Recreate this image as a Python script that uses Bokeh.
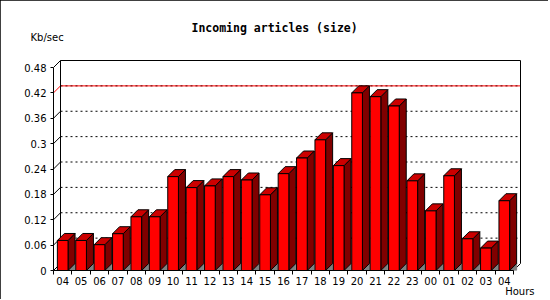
from bokeh.plotting import figure
from bokeh.models import Range1d, FixedTicker, Title
from bokeh.embed import file_html
from bokeh.resources import INLINE

# ---- data ----
hours = ["04", "05", "06", "07", "08", "09", "10", "11", "12", "13", "14", "15",
         "16", "17", "18", "19", "20", "21", "22", "23", "00", "01", "02", "03", "04"]
kbsec = [0.071, 0.071, 0.061, 0.087, 0.127, 0.127, 0.222, 0.196, 0.200, 0.222,
         0.214, 0.179, 0.229, 0.266, 0.309, 0.248, 0.420, 0.411, 0.389, 0.212,
         0.141, 0.224, 0.075, 0.053, 0.165]
ytick_vals = [0, 0.06, 0.12, 0.18, 0.24, 0.3, 0.36, 0.42, 0.48]
ytick_labels = ["0", "0.06", "0.12", "0.18", "0.24", "0.3", "0.36", "0.42", "0.48"]
ymax = 0.48
max_line = 0.42
title_text = "Incoming articles (size)"
ylabel_text = "Kb/sec"
xlabel_text = "Hours"

# ---- layout (pixels) ----
W, H = 548, 299
FL, FR, FT, FB = 53, 524, 38, 270     # frame edges
PX_X = 18.4                          # px per category
PX_Y = 203 / ymax                    # px per unit
DEPTH = 7

n = len(kbsec)
x_end = (FR - FL) / PX_X
y_end = (FB - FT) / PX_Y
dx = DEPTH / PX_X
dy = DEPTH / PX_Y

p = figure(width=W, height=H, output_backend="svg", toolbar_location=None,
           x_range=Range1d(0, x_end), y_range=Range1d(0, y_end),
           min_border_left=FL, min_border_right=W - FR,
           min_border_top=FT, min_border_bottom=H - FB)
p.outline_line_color = None
p.xgrid.visible = False
p.ygrid.visible = False
p.background_fill_color = "white"
p.border_fill_color = "white"
p.styles = {"outline": "2px solid black", "outline-offset": "-2px"}

# back wall gridlines
grid_vals = [v for v in ytick_vals if 0 < v < ymax and v != max_line]
p.segment(x0=[dx] * len(grid_vals), y0=[v + dy for v in grid_vals],
          x1=[n + dx] * len(grid_vals), y1=[v + dy for v in grid_vals],
          line_color="black", line_dash="2 3", line_width=1)
# max line (red)
p.segment(x0=[dx], y0=[max_line + dy], x1=[n + dx], y1=[max_line + dy],
          line_color="#ff0000", line_width=1)
p.segment(x0=[dx], y0=[max_line + dy], x1=[n + dx], y1=[max_line + dy],
          line_color="#600000", line_dash="2 3", line_width=1)

# slanted connectors from front axis to wall
slant_cols = ["#ff0000" if v == max_line else "black" for v in ytick_vals]
p.segment(x0=[0] * len(ytick_vals), y0=ytick_vals,
          x1=[dx] * len(ytick_vals), y1=[v + dy for v in ytick_vals],
          line_color=slant_cols, line_width=1)

# wall outline
p.line(x=[dx, dx, n + dx, n + dx, n], y=[dy, ymax + dy, ymax + dy, dy, 0],
       line_color="black", line_width=1)

# bars
hw = 0.29
lefts = [i + 0.5 - hw for i in range(n)]
rights = [i + 0.5 + hw for i in range(n)]

tri_xs = [[r, r + dx, r + dx] for r in rights]
tri_ys = [[0, 0, dy] for _ in rights]
p.patches(tri_xs, tri_ys, fill_color="#808080", line_color="#808080", line_width=1)

side_xs = [[r, r, r + dx, r + dx] for r in rights]
side_ys = [[0, v, v + dy, dy] for v in kbsec]
p.patches(side_xs, side_ys, fill_color="#800000", line_color="black", line_width=1)

top_xs = [[l, r, r + dx, l + dx] for l, r in zip(lefts, rights)]
top_ys = [[v, v, v + dy, v + dy] for v in kbsec]
p.patches(top_xs, top_ys, fill_color="#cc0000", line_color="black", line_width=1)

p.quad(left=lefts, right=rights, bottom=0, top=kbsec,
       fill_color="#ff0000", line_color="black", line_width=1)

# axes
font = "DejaVu Sans"
yax = p.yaxis[0]
yax.ticker = FixedTicker(ticks=ytick_vals)
yax.major_label_overrides = {v: s for v, s in zip(ytick_vals, ytick_labels)}
yax.bounds = (0, ymax)
yax.major_tick_out = 3
yax.major_tick_in = 0
yax.minor_tick_line_color = None
yax.major_label_standoff = 4
yax.major_label_text_font = font
yax.major_label_text_font_size = "10px"
yax.major_label_text_color = "black"
yax.axis_line_color = "black"

xax = p.xaxis[0]
centers = [i + 0.5 for i in range(n)]
xax.ticker = FixedTicker(ticks=centers, minor_ticks=list(range(n + 1)))
xax.major_label_overrides = {c: h for c, h in zip(centers, hours)}
xax.bounds = (0, n)
xax.major_tick_out = 4
xax.major_tick_in = 0
xax.major_tick_line_color = None
xax.minor_tick_out = 4
xax.minor_tick_in = 0
xax.minor_tick_line_color = "black"
xax.major_label_standoff = 2
xax.major_label_text_font = font
xax.major_label_text_font_size = "10px"
xax.major_label_text_color = "black"
xax.axis_line_color = "black"

# texts: main title (outermost), y unit just above the frame, x unit below
p.title.text = title_text
p.title.align = "left"
p.title.offset = 191 - FL
p.title.standoff = 0
p.title.text_font = "DejaVu Sans Mono"
p.title.text_font_style = "bold"
p.title.text_font_size = "11.5px"
p.title.text_color = "black"

p.add_layout(Title(text=ylabel_text, align="left", offset=30 - FL, standoff=-9,
                   text_font=font, text_font_style="normal",
                   text_font_size="10px", text_color="black"), "above")
p.add_layout(Title(text=xlabel_text, align="right", offset=FR - 534, standoff=-4,
                   vertical_align="top",
                   text_font=font, text_font_style="normal",
                   text_font_size="10px", text_color="black"), "below")

open("out.html", "w").write(file_html(p, INLINE))
